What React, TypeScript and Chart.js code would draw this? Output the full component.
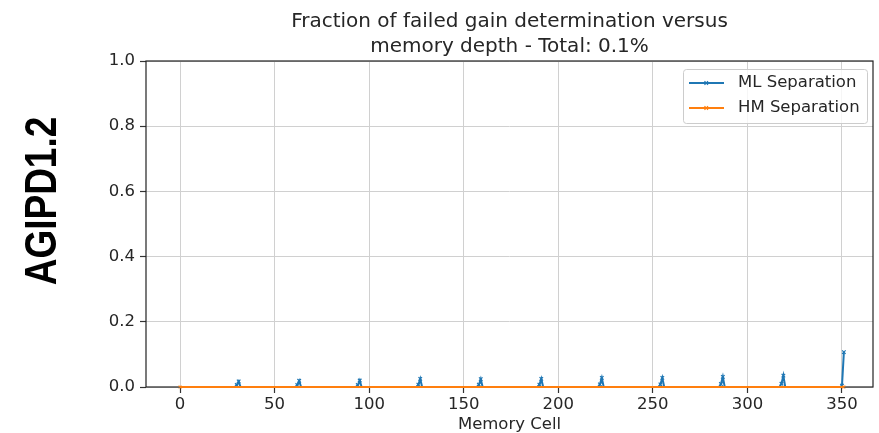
import React, { useEffect, useRef } from "react";
import { Chart, registerables } from "chart.js";

Chart.register(...registerables);

const titleLines = ["Fraction of failed gain determination versus", "memory depth - Total: 0.1%"];
const sideLabel = "AGIPD1.2";
const xAxisTitle = "Memory Cell";
const seriesNames = ["ML Separation", "HM Separation"];

const xTicks = [0, 50, 100, 150, 200, 250, 300, 350];
const yTicks = [0, 0.2, 0.4, 0.6, 0.8, 1.0];

const mlCells = [
  0,
  29, 30, 31, 32,
  61, 62, 63, 64,
  93, 94, 95, 96,
  125, 126, 127, 128,
  157, 158, 159, 160,
  189, 190, 191, 192,
  221, 222, 223, 224,
  253, 254, 255, 256,
  285, 286, 287, 288,
  317, 318, 319, 320,
  349, 350, 351,
];
const mlValues = [
  0,
  0, 0.006, 0.017, 0,
  0, 0.006, 0.019, 0,
  0, 0.006, 0.02, 0,
  0, 0.007, 0.025, 0,
  0, 0.007, 0.024, 0,
  0, 0.007, 0.025, 0,
  0, 0.008, 0.028, 0,
  0, 0.008, 0.028, 0,
  0, 0.009, 0.031, 0,
  0, 0.01, 0.035, 0,
  0, 0.004, 0.107,
];
const hmCells = [0, 351];
const hmValues = [0, 0];

const BLUE = "#1f77b4";
const ORANGE = "#ff7f0e";
const TEXT = "#262626";
const FONT = "'DejaVu Sans', sans-serif";

const decorPlugin = {
  id: "decor",
  beforeDatasetsDraw(chart: any) {
    const ctx = chart.ctx as CanvasRenderingContext2D;
    const a = chart.chartArea;
    ctx.save();
    ctx.strokeStyle = "#222";
    ctx.lineWidth = 1.2;
    ctx.strokeRect(a.left, a.top, a.right - a.left, a.bottom - a.top);
    ctx.restore();
  },
  afterDraw(chart: any) {
    const ctx = chart.ctx as CanvasRenderingContext2D;
    const a = chart.chartArea;
    ctx.save();
    const cx = (a.left + a.right) / 2;
    ctx.fillStyle = TEXT;
    ctx.font = `20px ${FONT}`;
    ctx.textAlign = "center";
    ctx.textBaseline = "alphabetic";
    ctx.fillText(titleLines[0], cx, 27);
    ctx.fillText(titleLines[1], cx, 51.5);

    ctx.font = `16.5px ${FONT}`;
    ctx.fillText(xAxisTitle, cx, 429);

    ctx.save();
    ctx.translate(44, 201);
    ctx.rotate(-Math.PI / 2);
    ctx.scale(1, 1.2);
    ctx.font = `bold 37px 'Liberation Sans', Arial, sans-serif`;
    ctx.fillStyle = "#000";
    ctx.textAlign = "center";
    ctx.textBaseline = "middle";
    ctx.fillText(sideLabel, 0, 0);
    ctx.restore();

    const lx = 683.5, ly = 69.5, lw = 184, lh = 54;
    ctx.beginPath();
    (ctx as any).roundRect(lx, ly, lw, lh, 3);
    ctx.fillStyle = "rgba(255,255,255,0.8)";
    ctx.fill();
    ctx.strokeStyle = "#cccccc";
    ctx.lineWidth = 1;
    ctx.stroke();
    const colors = [BLUE, ORANGE];
    const ys = [83, 108];
    for (let i = 0; i < 2; i++) {
      const y = ys[i];
      ctx.strokeStyle = colors[i];
      ctx.lineWidth = 2;
      ctx.beginPath();
      ctx.moveTo(689, y);
      ctx.lineTo(724, y);
      ctx.stroke();
      ctx.lineWidth = 1.2;
      ctx.beginPath();
      ctx.moveTo(704.5, y - 1.8);
      ctx.lineTo(708, y + 1.8);
      ctx.moveTo(708, y - 1.8);
      ctx.lineTo(704.5, y + 1.8);
      ctx.stroke();
      ctx.fillStyle = TEXT;
      ctx.font = `16.5px ${FONT}`;
      ctx.textAlign = "left";
      ctx.textBaseline = "middle";
      ctx.fillText(seriesNames[i], 738, y);
    }
    ctx.restore();
  },
};

export default function App() {
  const ref = useRef<HTMLCanvasElement | null>(null);
  useEffect(() => {
    document.body.style.margin = "0";
    if (!ref.current) return;
    const chart = new Chart(ref.current, {
      type: "line",
      data: {
        datasets: [
          {
            label: seriesNames[0],
            data: mlCells.map((x, i) => ({ x, y: mlValues[i] })),
            borderColor: BLUE,
            backgroundColor: BLUE,
            borderWidth: 2,
            pointStyle: "crossRot",
            pointRadius: mlValues.map((v) => (v > 0 ? 2.5 : 0)),
            pointBorderWidth: 1.2,
            pointBorderColor: BLUE,
            tension: 0,
            order: 1,
            clip: 4,
          },
          {
            label: seriesNames[1],
            data: hmCells.map((x, i) => ({ x, y: hmValues[i] })),
            borderColor: ORANGE,
            backgroundColor: ORANGE,
            borderWidth: 2,
            pointStyle: "crossRot",
            pointRadius: 2,
            pointBorderWidth: 1.2,
            pointBorderColor: ORANGE,
            tension: 0,
            order: 0,
            clip: 4,
          },
        ],
      },
      options: {
        animation: false,
        responsive: true,
        maintainAspectRatio: false,
        layout: { padding: { top: 61, right: 6, left: 0, bottom: 0 } },
        plugins: {
          legend: { display: false },
          title: { display: false },
          tooltip: { enabled: false },
        },
        scales: {
          x: {
            type: "linear",
            min: -18,
            max: 366.4,
            afterBuildTicks: (scale: any) => {
              scale.ticks = xTicks.map((v) => ({ value: v }));
            },
            afterFit: (scale: any) => {
              scale.height = 46;
            },
            grid: {
              color: "#d0d0d0",
              lineWidth: 1,
              tickLength: 6,
              tickColor: "#333",
              tickWidth: 1.2,
            },
            border: { display: false },
            ticks: {
              color: TEXT,
              font: { family: FONT, size: 16.5 },
              padding: 2,
              maxRotation: 0,
              autoSkip: false,
              callback: (v: any) => String(v),
            },
          },
          y: {
            type: "linear",
            min: 0,
            max: 1,
            afterBuildTicks: (scale: any) => {
              scale.ticks = yTicks.map((v) => ({ value: v }));
            },
            afterFit: (scale: any) => {
              scale.width = 146;
            },
            grid: {
              color: "#d0d0d0",
              lineWidth: 1,
              tickLength: 6,
              tickColor: "#333",
              tickWidth: 1.2,
            },
            border: { display: false },
            ticks: {
              color: TEXT,
              font: { family: FONT, size: 16.5 },
              padding: 5,
              autoSkip: false,
              callback: (v: any) => Number(v).toFixed(1),
            },
          },
        },
      },
      plugins: [decorPlugin],
    });
    return () => chart.destroy();
  }, []);
  return (
    <div style={{ position: "absolute", left: 0, top: 0, width: 879, height: 433 }}>
      <canvas ref={ref} />
    </div>
  );
}
